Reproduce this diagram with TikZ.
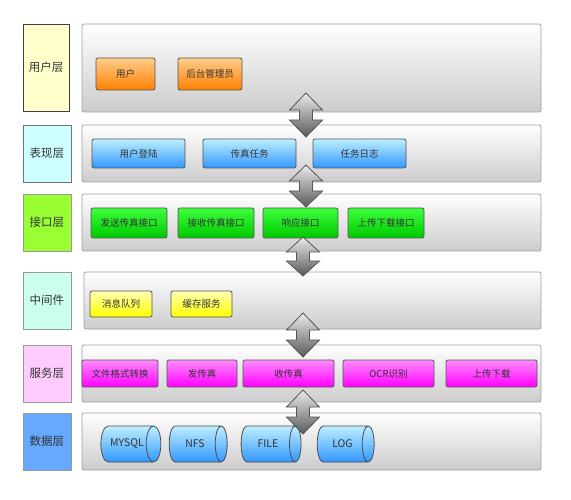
\documentclass[tikz,border=0pt]{standalone}
\usepackage{fontspec}
\setmainfont{Noto Sans CJK SC}
\usetikzlibrary{shapes.geometric}
\definecolor{txt}{HTML}{333333}
\definecolor{pborder}{HTML}{A0A0A0}
\definecolor{bborder}{HTML}{555555}
\tikzset{
  panel/.style={draw=pborder, line width=0.8pt, rounded corners=2pt, top color=white, bottom color=black!20, inner sep=0pt},
  lbl/.style={draw=black!55, line width=0.8pt, inner sep=0pt, font=\fontsize{11.5}{12}\selectfont, text=txt},
  item/.style={draw=bborder, line width=0.8pt, rounded corners=2pt, inner sep=0pt, font=\fontsize{9.5}{10}\selectfont, text=txt},
  orangebox/.style={item, top color={rgb,255:red,255;green,205;blue,140}, bottom color={rgb,255:red,255;green,128;blue,0}},
  bluebox/.style={item, top color={rgb,255:red,190;green,240;blue,255}, bottom color={rgb,255:red,50;green,150;blue,255}},
  greenbox/.style={item, top color={rgb,255:red,60;green,255;blue,60}, bottom color={rgb,255:red,0;green,200;blue,0}},
  yellowbox/.style={item, top color={rgb,255:red,255;green,255;blue,180}, bottom color={rgb,255:red,255;green,255;blue,0}},
  magbox/.style={item, top color={rgb,255:red,255;green,140;blue,255}, bottom color={rgb,255:red,255;green,0;blue,255}},
  db/.style={cylinder, shape aspect=1.5, draw=black!70, line width=0.8pt, inner sep=0pt, font=\fontsize{10.5}{11}\selectfont, text=txt,
    top color={rgb,255:red,190;green,240;blue,255}, bottom color={rgb,255:red,50;green,150;blue,255}},
  dblarrow/.style={draw=bborder, line width=0.8pt, top color=black!8, bottom color=black!65},
}
\newcommand\bx[7]{\node[#2, minimum width={(#5-#3)*1pt}, minimum height={(#6-#4)*1pt}] (#1) at ({(#3+#5)/2},{(#4+#6)/2}) {#7};}
\newcommand\cyl[6]{\node[db, minimum height={(#4-#2)*1pt}, minimum width={(#5-#3)*1pt}] (#1) at ({(#2+#4)/2},{(#3+#5)/2}) {#6};}
\newcommand\darr[4]{%
  \shade[dblarrow] (#1,#2) -- ({#1+16.5},{#2+#4}) -- ({#1+6.5},{#2+#4}) -- ({#1+6.5},{#3-#4}) -- ({#1+16.5},{#3-#4})
    -- (#1,#3) -- ({#1-16.5},{#3-#4}) -- ({#1-6.5},{#3-#4}) -- ({#1-6.5},{#2+#4}) -- ({#1-16.5},{#2+#4}) -- cycle;}
\begin{document}
\begin{tikzpicture}[x=1pt,y=-1pt]
\useasboundingbox (0,0) rectangle (571,500);
% left labels
\bx{l1}{lbl, fill={rgb,255:red,255;green,255;blue,204}, draw=black!75}{23}{24}{69}{111}{用户层}
\bx{l2}{lbl, fill={rgb,255:red,204;green,255;blue,255}}{23}{125}{71}{182}{表现层}
\bx{l3}{lbl, fill={rgb,255:red,153;green,255;blue,51}, draw=black!40}{23}{194}{71}{251}{接口层}
\bx{l4}{lbl, fill={rgb,255:red,204;green,255;blue,236}, draw=black!40}{23}{272}{71}{329}{中间件}
\bx{l5}{lbl, fill={rgb,255:red,255;green,204;blue,255}, draw=black!40}{23}{345}{71}{402}{服务层}
\bx{l6}{lbl, fill={rgb,255:red,102;green,170;blue,255}, draw=black!40}{23}{413}{71}{470}{数据层}
% panels
\bx{p1}{panel}{82}{24}{541}{112}{}
\bx{p2}{panel}{82}{125}{541}{182}{}
\bx{p3}{panel}{82}{194}{541}{251}{}
\bx{p4}{panel}{84}{272}{541}{329}{}
\bx{p5}{panel}{82}{345}{541}{402}{}
\bx{p6}{panel}{82}{413}{541}{470}{}
% layer 1
\bx{u1}{orangebox}{96}{58}{155}{90}{用户}
\bx{u2}{orangebox}{178}{58}{242}{90}{后台管理员}
% layer 2
\bx{v1}{bluebox}{92}{139}{185}{168}{用户登陆}
\bx{v2}{bluebox}{203}{139}{296}{168}{传真任务}
\bx{v3}{bluebox}{313}{139}{406}{168}{任务日志}
% layer 3
\bx{i1}{greenbox}{91}{208}{167}{238}{发送传真接口}
\bx{i2}{greenbox}{178}{208}{254}{238}{接收传真接口}
\bx{i3}{greenbox}{263}{208}{338}{238}{响应接口}
\bx{i4}{greenbox}{348}{208}{424}{238}{上传下载接口}
% layer 4
\bx{m1}{yellowbox}{90}{291}{152}{317}{消息队列}
\bx{m2}{yellowbox}{171}{291}{232}{317}{缓存服务}
% layer 5
\bx{s1}{magbox}{82}{360}{158}{387}{文件格式转换}
\bx{s2}{magbox}{167}{360}{237}{387}{发传真}
\bx{s3}{magbox}{243}{360}{334}{387}{收传真}
\bx{s4}{magbox}{343}{360}{434}{387}{OCR识别}
\bx{s5}{magbox}{446}{360}{537}{387}{上传下载}
% layer 6
\cyl{d1}{97}{426}{157}{462}{MYSQL}
\cyl{d2}{166}{426}{224}{462}{NFS}
\cyl{d3}{238}{426}{298}{462}{FILE}
\cyl{d4}{314}{426}{371}{462}{LOG}
% arrows
\darr{306}{93}{137}{17}
\darr{306}{165}{207}{16}
\darr{303}{237}{276}{15}
\darr{303}{313}{357}{17}
\darr{303}{390}{434}{17}
\end{tikzpicture}
\end{document}
